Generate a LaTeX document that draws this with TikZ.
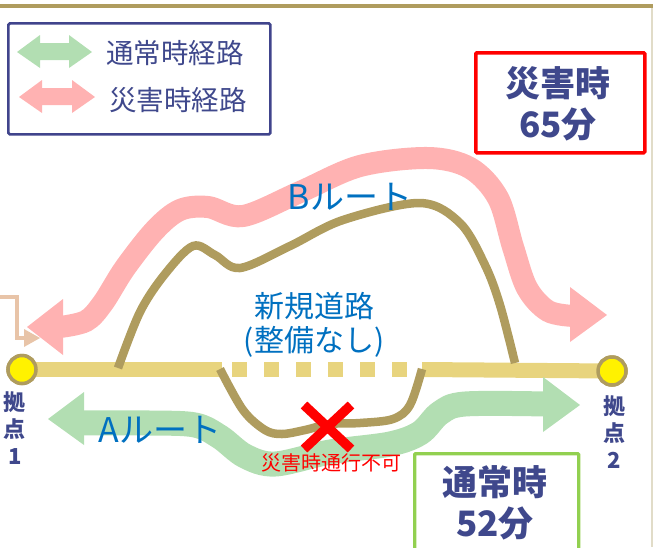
\documentclass[tikz,border=0pt]{standalone}
\usepackage{fontspec}
\newfontfamily\jp{Noto Sans CJK JP}
\definecolor{goldc}{RGB}{175,156,94}
\definecolor{roadc}{RGB}{232,212,126}
\definecolor{greenc}{RGB}{178,222,178}
\definecolor{pinkc}{RGB}{255,178,178}
\definecolor{navyc}{RGB}{63,72,140}
\definecolor{bluec}{RGB}{0,112,192}
\definecolor{legc}{RGB}{64,68,140}
\definecolor{gboxc}{RGB}{146,208,80}
\definecolor{tanc}{RGB}{232,196,168}
\definecolor{edgec}{RGB}{225,220,200}
\tikzset{
  roadline/.style={draw=roadc, line width=15pt},
  oliveline/.style={draw=goldc, line width=8.5pt},
  pinkroute/.style={draw=pinkc, line width=22pt},
  greenroute/.style={draw=greenc, line width=25pt},
  hub/.style={circle, fill=yellow, draw=goldc, line width=3.5pt, minimum size=28pt, inner sep=0pt},
  fs/.style={font=\jp\fontsize{#1}{#1}\selectfont},
  fsb/.style={font=\jp\bfseries\fontsize{#1}{#1}\selectfont},
  hubtext/.style={fsb=22, text=navyc, inner sep=0pt, align=center},
  bluetext/.style={fs=#1, text=bluec, inner sep=0pt},
  boxtext/.style={fsb=35, text=navyc, inner sep=0pt, align=center},
}
\begin{document}
\begin{tikzpicture}[x=1pt,y=-1pt]
\useasboundingbox (0,0) rectangle (655,547);
% frame lines
\coordinate (tl) at (0,6);
\coordinate (tr) at (653,6);
\coordinate (rb) at (652,547);
\draw[goldc, line width=4pt] (tl) -- (tr);
\draw[edgec, line width=1.2pt] (652,8) -- (rb);

% legend
\node[draw=legc, line width=2.7pt, rounded corners=1.5pt, minimum width=262pt, minimum height=111pt, anchor=north west, inner sep=0pt] (legend) at (7,22) {};
\fill[greenc] (17,52) -- (40,35) -- (40,43) -- (69,43) -- (69,35) -- (92,52) -- (69,68) -- (69,60) -- (40,60) -- (40,68) -- cycle;
\fill[pinkc] (19,97) -- (42,80) -- (42,88) -- (72,88) -- (72,80) -- (95,97) -- (72,113) -- (72,105) -- (42,105) -- (42,113) -- cycle;
\node[fs=27.5, text=navyc, inner sep=0pt] (lg1) at (175,53) {通常時経路};
\node[fs=27.5, text=navyc, inner sep=0pt] (lg2) at (178,100) {災害時経路};

% tan fragment arrow
\coordinate (ta) at (0,297);
\coordinate (tb) at (17,297);
\coordinate (tc) at (17,338);
\coordinate (td) at (25,338);
\draw[tanc, line width=4pt] (ta) -- (tb) -- (tc) -- (td);
\fill[tanc] (24,329) -- (40,338) -- (24,347) -- cycle;

% main road
\coordinate (s1) at (222,369.5);
\coordinate (ds) at (232,369.5);
\coordinate (de) at (407,369.5);
\coordinate (s2) at (422,369.5);
\node[hub] (p1) at (22,369.5) {};
\node[hub] (p2) at (612,371) {};
\draw[roadline] (p1.center) -- (s1);
\draw[roadline, dash pattern=on 15pt off 17pt] (ds) -- (de);
\draw[roadline] (s2) -- (p2.center);
\node[hub] at (p1) {};
\node[hub] at (p2) {};

% pink (disaster) route
\draw[pinkroute] plot[smooth, tension=0.55] coordinates {(60,327) (86,321) (103,303) (125,268) (155,230) (180,210) (208,207) (243,216) (300,192) (360,166) (428,158) (470,168) (498,198) (513,247) (527,288) (548,311) (574,316)};
\fill[pinkc] (27,327) -- (63,299) -- (63,355) -- cycle;
\fill[pinkc] (607,315) -- (570,287) -- (570,342) -- cycle;

% green (normal) route
\draw[greenroute] plot[smooth, tension=0.55] coordinates {(80,423) (150,423) (195,425) (220,437) (245,456) (275,464) (330,452) (390,444) (420,433) (440,413) (465,404) (546,404)};
\fill[greenc] (48,419) -- (84,392) -- (84,445) -- cycle;
\fill[greenc] (580,405) -- (543,377) -- (543,432) -- cycle;

% olive roads
\draw[oliveline] plot[smooth, tension=0.55] coordinates {(118,368) (140,312) (165,274) (193,246) (215,255) (240,268) (290,246) (343,220) (420,203) (460,223) (485,265) (500,305) (515,363)};
\draw[oliveline] plot[smooth, tension=0.55] coordinates {(220,369) (243,410) (265,430) (282,434) (305,430) (330,424) (360,423) (393,419) (410,405) (422,369)};

% red X
\coordinate (x1) at (304,405);
\coordinate (x2) at (351,449);
\coordinate (x3) at (351,405);
\coordinate (x4) at (304,449);
\draw[red, line width=9.5pt] (x1) -- (x2);
\draw[red, line width=9.5pt] (x3) -- (x4);
\node[fs=20, text=red, inner sep=0pt] (ng) at (331,463) {災害時通行不可};

% labels
\node[bluetext=30, align=center] (newroad) at (314,325) {新規道路\\[4pt](整備なし)};
\node[bluetext=34] (aroute) at (160,430) {Aルート};
\node[bluetext=34] (broute) at (350,197) {Bルート};
\node[hubtext] (h1) at (15,428) {拠\\[5pt]点\\[5pt]1};
\node[hubtext] (h2) at (614,432) {拠\\[5pt]点\\[5pt]2};

% time boxes
\node[draw=red, line width=3.5pt, rounded corners=1pt, minimum width=169pt, minimum height=100pt, anchor=north west, inner sep=0pt] (dbox) at (474,51) {};
\node[boxtext] (dtext) at (558,104) {災害時\\[6pt]65分};
\node[draw=gboxc, line width=3.3pt, rounded corners=1pt, minimum width=164pt, minimum height=110pt, anchor=north west, inner sep=0pt] (nbox) at (413,452) {};
\node[boxtext] (ntext) at (495,503) {通常時\\[6pt]52分};
\end{tikzpicture}
\end{document}
